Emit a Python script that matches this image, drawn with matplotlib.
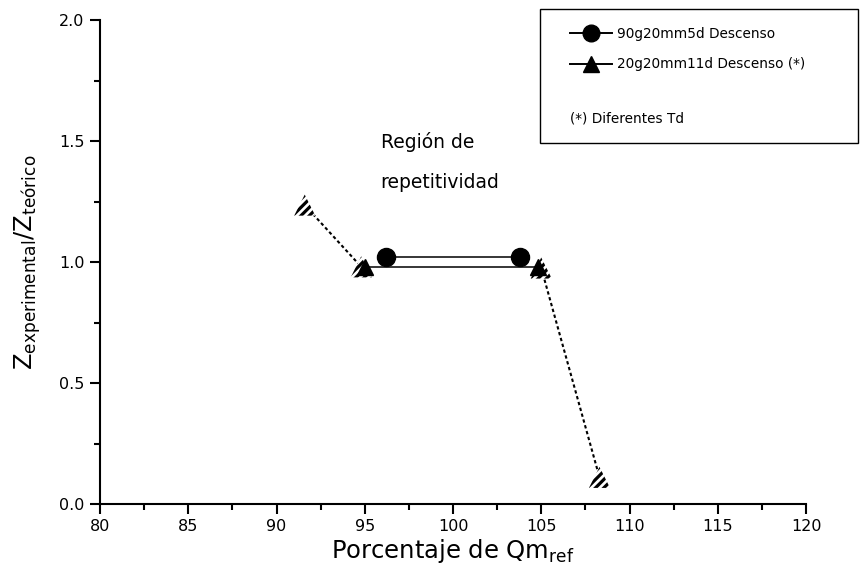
import matplotlib
matplotlib.use("Agg")
import matplotlib.pyplot as plt
from matplotlib.lines import Line2D
from matplotlib.patches import Rectangle
from matplotlib.ticker import MultipleLocator, FormatStrFormatter

# ---- data ----
circle_x = [96.2, 103.8]
circle_y = [1.02, 1.02]
tri_x = [95.0, 104.8]
tri_y = [0.98, 0.98]
hatch_left_x = [91.6, 94.8]
hatch_left_y = [1.235, 0.98]
hatch_right_x = [105.0, 108.3]
hatch_right_y = [0.975, 0.11]
label_circle = "90g20mm5d Descenso"
label_tri = "20g20mm11d Descenso (*)"
note_text = "(*) Diferentes Td"
region_lines = ["Región de", "repetitividad"]
xlabel = r"Porcentaje de Qm$_{\mathrm{ref}}$"
ylabel = r"Z$_{\mathrm{experimental}}$/Z$_{\mathrm{teórico}}$"

plt.rcParams["font.family"] = ["DejaVu Sans"]
plt.rcParams["hatch.color"] = "black"
plt.rcParams["hatch.linewidth"] = 2.3

W, H = 861, 578
fig = plt.figure(figsize=(W / 100, H / 100), dpi=100, facecolor="white")
ax = fig.add_axes([100 / W, (H - 504) / H, 706 / W, 484 / H])

# dotted connections to the different-Td points
ax.plot(hatch_left_x, hatch_left_y, color="black", lw=1.5, ls=(0, (1.6, 1.3)), zorder=2)
ax.plot(hatch_right_x, hatch_right_y, color="black", lw=1.5, ls=(0, (1.6, 1.3)), zorder=2)
# hatched triangles
ax.scatter(hatch_left_x + hatch_right_x, hatch_left_y + hatch_right_y, marker="^", s=230,
           facecolors="white", edgecolors="black", linewidths=0, hatch="////", zorder=3)
# solid series
ax.plot(tri_x, tri_y, color="black", lw=1.1, marker="^", ms=12, mfc="black", mec="black", zorder=4)
ax.plot(circle_x, circle_y, color="black", lw=1.1, marker="o", ms=13, mfc="black", mec="black", zorder=5)

ax.set_xlim(80, 120)
ax.set_ylim(0, 2.0)
ax.xaxis.set_major_locator(MultipleLocator(5))
ax.xaxis.set_minor_locator(MultipleLocator(2.5))
ax.yaxis.set_major_locator(MultipleLocator(0.5))
ax.yaxis.set_minor_locator(MultipleLocator(0.25))
ax.yaxis.set_major_formatter(FormatStrFormatter("%.1f"))
for s in ["top", "right"]:
    ax.spines[s].set_visible(False)
for s in ["left", "bottom"]:
    ax.spines[s].set_linewidth(1.5)
ax.tick_params(which="major", direction="out", length=7, width=1.5, labelsize=11.5, pad=4)
ax.tick_params(which="minor", direction="out", length=4, width=1.5)

ax.set_xlabel(xlabel, fontsize=17.5, labelpad=2)
ax.set_ylabel(ylabel, fontsize=17.5, labelpad=12)

# region annotation
ax.text(95.9, 1.471, region_lines[0], fontsize=13.5, va="baseline", ha="left")
ax.text(95.9, 1.306, region_lines[1], fontsize=13.5, va="baseline", ha="left")

# legend box
fig.patches.append(Rectangle((540 / W, (H - 143) / H), 318 / W, 134 / H,
                             transform=fig.transFigure, fill=False, edgecolor="black", lw=1.0))
handles = [
    Line2D([], [], color="black", lw=1.4, marker="o", ms=12, mfc="black", mec="black"),
    Line2D([], [], color="black", lw=1.4, marker="^", ms=12, mfc="black", mec="black"),
]
leg = ax.legend(handles, [label_circle, label_tri], loc="upper left",
                bbox_to_anchor=(570 / W, (H - 27) / H), bbox_transform=fig.transFigure,
                frameon=False, fontsize=9.8, handlelength=3.1, handletextpad=0.38,
                labelspacing=1.2, borderpad=0, borderaxespad=0, numpoints=1)
fig.text(570 / W, (H - 118) / H, note_text, fontsize=9.8, va="center", ha="left")

fig.savefig("out.png", dpi=100, facecolor="white")
